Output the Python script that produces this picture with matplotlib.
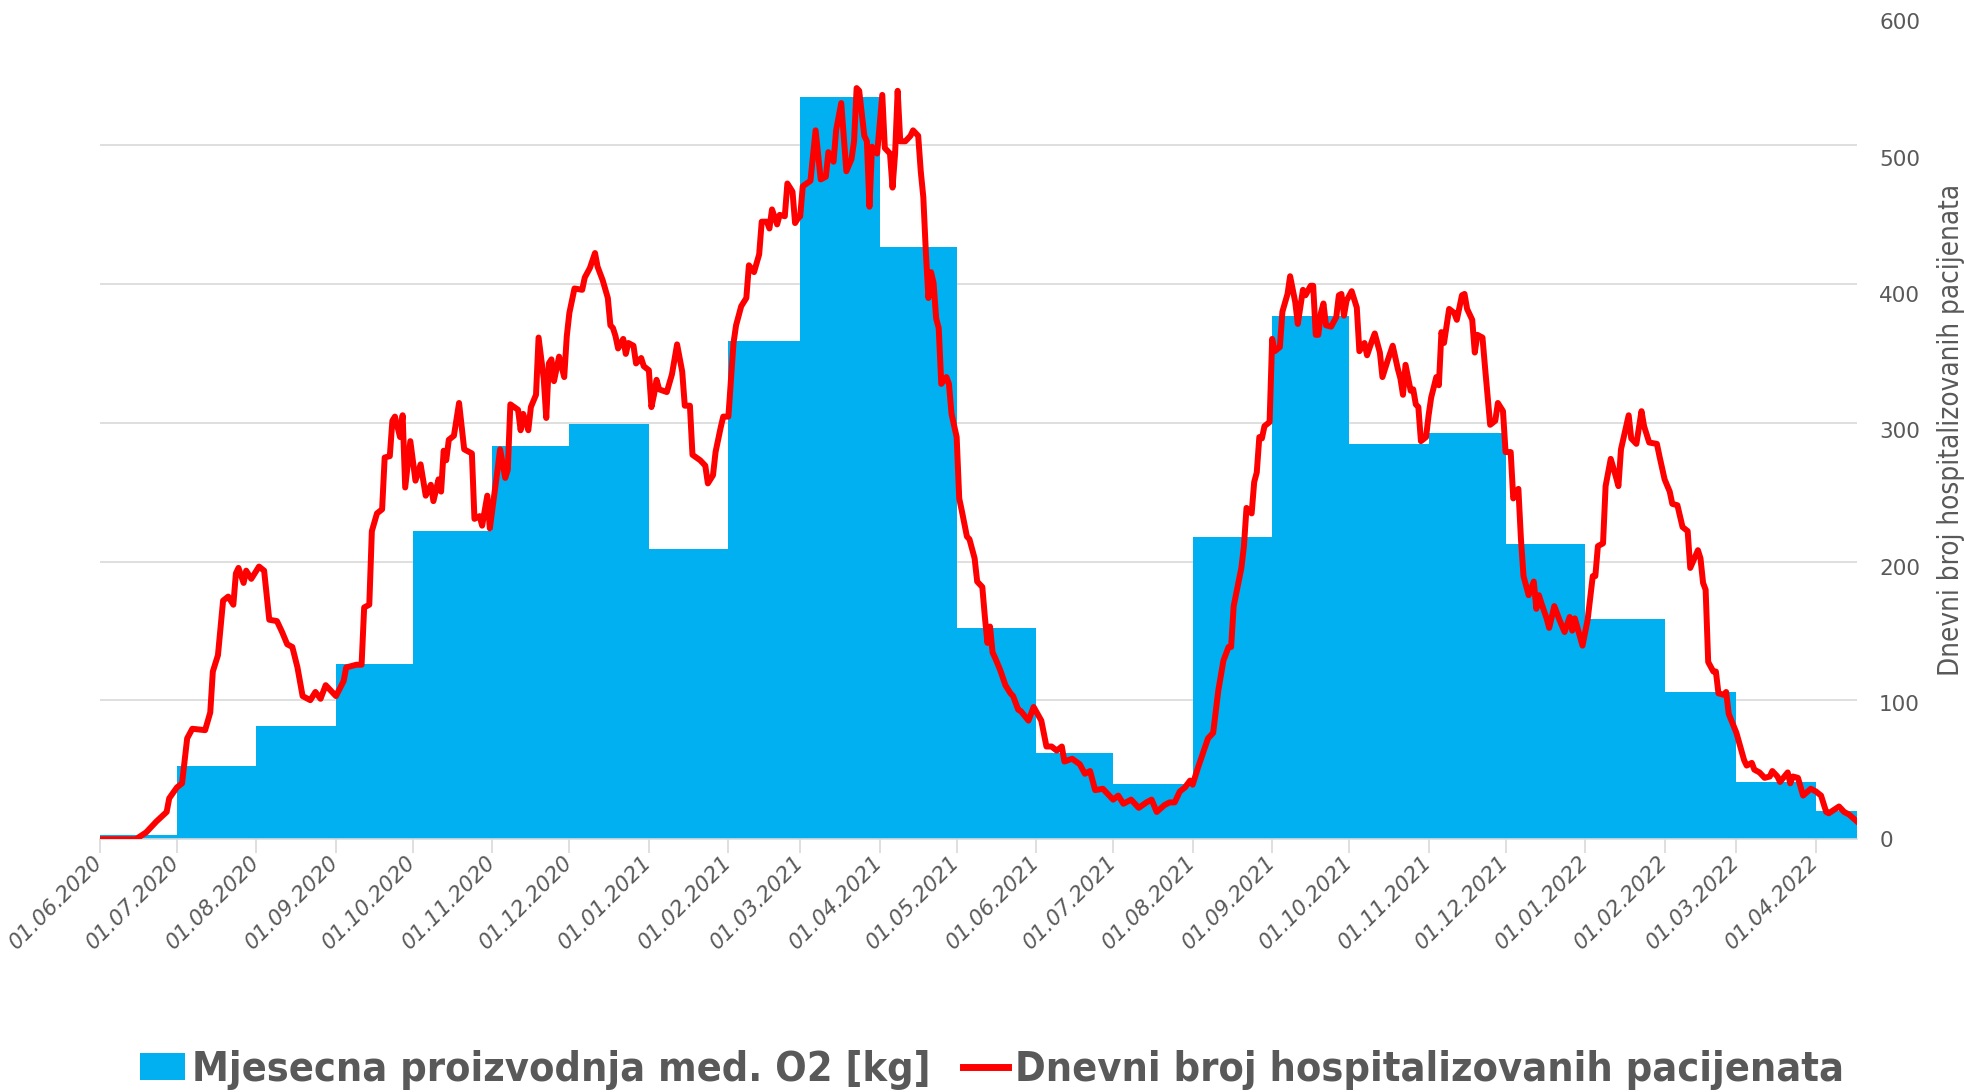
import matplotlib
matplotlib.use('Agg')
import matplotlib.pyplot as plt
import matplotlib.dates as mdates
from matplotlib import font_manager
from matplotlib.font_manager import FontProperties
from matplotlib.patches import Patch
from matplotlib.lines import Line2D
import pandas as pd

# mjesecna proizvodnja kisika po mjesecima (kg)
months = ['01.06.2020', '01.07.2020', '01.08.2020', '01.09.2020', '01.10.2020', '01.11.2020',
          '01.12.2020', '01.01.2021', '01.02.2021', '01.03.2021', '01.04.2021', '01.05.2021',
          '01.06.2021', '01.07.2021', '01.08.2021', '01.09.2021', '01.10.2021', '01.11.2021',
          '01.12.2021', '01.01.2022', '01.02.2022', '01.03.2022', '01.04.2022']
oxygen_kg = [300, 5300, 8150, 12600, 22200, 28300, 29900, 20900, 35900, 53500, 42700, 15200,
             6200, 3950, 21800, 37700, 28500, 29300, 21300, 15900, 10600, 4150, 2040]

# dnevni broj hospitalizovanih pacijenata
hosp_dates = [
    '01.06.2020', '15.06.2020', '19.06.2020', '23.06.2020', '27.06.2020', '28.06.2020',
    '01.07.2020', '03.07.2020', '05.07.2020', '07.07.2020', '12.07.2020', '14.07.2020', '15.07.2020',
    '17.07.2020', '19.07.2020', '21.07.2020', '23.07.2020', '24.07.2020', '25.07.2020', '27.07.2020',
    '28.07.2020', '30.07.2020',
    '02.08.2020', '04.08.2020', '06.08.2020', '09.08.2020', '11.08.2020', '13.08.2020', '15.08.2020',
    '17.08.2020', '19.08.2020', '22.08.2020', '24.08.2020', '26.08.2020', '28.08.2020',
    '01.09.2020', '04.09.2020', '05.09.2020', '09.09.2020', '11.09.2020', '12.09.2020', '14.09.2020',
    '15.09.2020', '17.09.2020', '19.09.2020', '20.09.2020', '22.09.2020', '23.09.2020', '24.09.2020',
    '26.09.2020', '27.09.2020', '28.09.2020', '30.09.2020',
    '02.10.2020', '04.10.2020', '06.10.2020', '08.10.2020', '09.10.2020', '11.10.2020', '12.10.2020',
    '13.10.2020', '14.10.2020', '15.10.2020', '17.10.2020', '19.10.2020', '21.10.2020', '24.10.2020',
    '25.10.2020', '27.10.2020', '28.10.2020', '29.10.2020', '30.10.2020', '31.10.2020',
    '03.11.2020', '04.11.2020', '06.11.2020', '07.11.2020', '08.11.2020', '11.11.2020', '12.11.2020',
    '13.11.2020', '15.11.2020', '16.11.2020', '18.11.2020', '19.11.2020', '21.11.2020', '22.11.2020',
    '23.11.2020', '24.11.2020', '25.11.2020', '27.11.2020', '29.11.2020', '30.11.2020',
    '01.12.2020', '03.12.2020', '06.12.2020', '07.12.2020', '09.12.2020', '11.12.2020', '12.12.2020',
    '14.12.2020', '16.12.2020', '17.12.2020', '18.12.2020', '19.12.2020', '20.12.2020', '22.12.2020',
    '23.12.2020', '24.12.2020', '26.12.2020', '27.12.2020', '29.12.2020', '30.12.2020',
    '01.01.2021', '02.01.2021', '03.01.2021', '04.01.2021', '05.01.2021', '08.01.2021', '10.01.2021',
    '12.01.2021', '14.01.2021', '15.01.2021', '17.01.2021', '18.01.2021', '21.01.2021', '23.01.2021',
    '24.01.2021', '26.01.2021', '27.01.2021', '29.01.2021', '30.01.2021',
    '01.02.2021', '03.02.2021', '04.02.2021', '06.02.2021', '08.02.2021', '09.02.2021', '11.02.2021',
    '13.02.2021', '14.02.2021', '16.02.2021', '17.02.2021', '18.02.2021', '20.02.2021', '21.02.2021',
    '23.02.2021', '24.02.2021', '26.02.2021', '27.02.2021', '28.02.2021',
    '01.03.2021', '02.03.2021', '05.03.2021', '07.03.2021', '09.03.2021', '11.03.2021', '12.03.2021',
    '14.03.2021', '15.03.2021', '17.03.2021', '19.03.2021', '21.03.2021', '22.03.2021', '23.03.2021',
    '24.03.2021', '26.03.2021', '27.03.2021', '28.03.2021', '29.03.2021', '31.03.2021',
    '02.04.2021', '03.04.2021', '05.04.2021', '06.04.2021', '07.04.2021', '08.04.2021', '09.04.2021',
    '11.04.2021', '13.04.2021', '14.04.2021', '16.04.2021', '17.04.2021', '18.04.2021', '19.04.2021',
    '20.04.2021', '21.04.2021', '22.04.2021', '23.04.2021', '24.04.2021', '25.04.2021', '27.04.2021',
    '28.04.2021', '29.04.2021',
    '01.05.2021', '02.05.2021', '03.05.2021', '05.05.2021', '06.05.2021', '08.05.2021', '09.05.2021',
    '11.05.2021', '12.05.2021', '13.05.2021', '14.05.2021', '15.05.2021', '16.05.2021', '18.05.2021',
    '20.05.2021', '22.05.2021', '23.05.2021', '25.05.2021', '26.05.2021', '29.05.2021', '31.05.2021',
    '03.06.2021', '05.06.2021', '07.06.2021', '09.06.2021', '11.06.2021', '12.06.2021', '15.06.2021',
    '18.06.2021', '20.06.2021', '22.06.2021', '24.06.2021', '27.06.2021', '29.06.2021',
    '01.07.2021', '03.07.2021', '05.07.2021', '08.07.2021', '11.07.2021', '14.07.2021', '16.07.2021',
    '18.07.2021', '21.07.2021', '23.07.2021', '25.07.2021', '27.07.2021', '29.07.2021', '31.07.2021',
    '01.08.2021', '03.08.2021', '05.08.2021', '07.08.2021', '09.08.2021', '11.08.2021', '13.08.2021',
    '15.08.2021', '16.08.2021', '17.08.2021', '20.08.2021', '21.08.2021', '22.08.2021', '24.08.2021',
    '25.08.2021', '26.08.2021', '27.08.2021', '28.08.2021', '29.08.2021', '31.08.2021',
    '01.09.2021', '02.09.2021', '04.09.2021', '05.09.2021', '07.09.2021', '08.09.2021', '10.09.2021',
    '11.09.2021', '13.09.2021', '14.09.2021', '16.09.2021', '17.09.2021', '18.09.2021', '19.09.2021',
    '20.09.2021', '21.09.2021', '22.09.2021', '24.09.2021', '26.09.2021', '27.09.2021', '28.09.2021',
    '29.09.2021', '30.09.2021',
    '02.10.2021', '04.10.2021', '05.10.2021', '07.10.2021', '08.10.2021', '10.10.2021', '11.10.2021',
    '13.10.2021', '14.10.2021', '16.10.2021', '18.10.2021', '20.10.2021', '21.10.2021', '22.10.2021',
    '23.10.2021', '25.10.2021', '26.10.2021', '27.10.2021', '28.10.2021', '29.10.2021', '31.10.2021',
    '01.11.2021', '02.11.2021', '04.11.2021', '05.11.2021', '06.11.2021', '07.11.2021', '09.11.2021',
    '11.11.2021', '12.11.2021', '14.11.2021', '15.11.2021', '16.11.2021', '18.11.2021', '19.11.2021',
    '20.11.2021', '22.11.2021', '23.11.2021', '25.11.2021', '27.11.2021', '28.11.2021', '30.11.2021',
    '01.12.2021', '03.12.2021', '04.12.2021', '06.12.2021', '07.12.2021', '08.12.2021', '10.12.2021',
    '12.12.2021', '13.12.2021', '14.12.2021', '15.12.2021', '17.12.2021', '18.12.2021', '20.12.2021',
    '22.12.2021', '24.12.2021', '26.12.2021', '27.12.2021', '28.12.2021', '31.12.2021',
    '02.01.2022', '04.01.2022', '05.01.2022', '06.01.2022', '08.01.2022', '09.01.2022', '11.01.2022',
    '13.01.2022', '14.01.2022', '15.01.2022', '18.01.2022', '19.01.2022', '21.01.2022', '23.01.2022',
    '24.01.2022', '26.01.2022', '29.01.2022', '30.01.2022',
    '01.02.2022', '03.02.2022', '04.02.2022', '06.02.2022', '08.02.2022', '10.02.2022', '11.02.2022',
    '14.02.2022', '15.02.2022', '16.02.2022', '17.02.2022', '18.02.2022', '20.02.2022', '21.02.2022',
    '22.02.2022', '24.02.2022', '25.02.2022', '26.02.2022',
    '01.03.2022', '04.03.2022', '05.03.2022', '07.03.2022', '08.03.2022', '10.03.2022', '12.03.2022',
    '14.03.2022', '15.03.2022', '17.03.2022', '18.03.2022', '21.03.2022', '22.03.2022', '23.03.2022',
    '25.03.2022', '27.03.2022', '30.03.2022',
    '01.04.2022', '03.04.2022', '05.04.2022', '06.04.2022', '10.04.2022', '12.04.2022', '14.04.2022',
    '17.04.2022']
hosp_values = [
    0, 0, 5, 13, 20, 30,
    38, 41, 74, 81, 80, 93, 123,
    135, 175, 178, 172, 195, 199, 188,
    197, 191,
    200, 197, 161, 160, 152, 143, 141,
    126, 105, 102, 108, 103, 113,
    105, 116, 126, 128, 128, 170, 172,
    226, 239, 242, 280, 281, 307, 310,
    295, 311, 258, 292,
    263, 275, 252, 260, 248, 264, 255,
    285, 278, 293, 296, 320, 286, 283,
    235, 237, 230, 241, 252, 228,
    271, 286, 265, 271, 319, 315, 300,
    312, 300, 317, 326, 368, 338, 309,
    349, 352, 336, 354, 339, 369,
    386, 404, 403, 412, 419, 430, 420,
    410, 397, 377, 375, 369, 360, 367,
    356, 364, 362, 349, 353, 347,
    344, 317, 326, 337, 330, 328, 341,
    363, 343, 318, 318, 282, 278, 274,
    261, 267, 284, 302, 310,
    310, 364, 377, 391, 397, 421, 416,
    429, 453, 453, 448, 462, 451, 458,
    457, 481, 475, 452, 455,
    457, 479, 483, 520, 484, 486, 504,
    497, 520, 540, 490, 499, 512, 551,
    549, 516, 512, 464, 508, 503,
    546, 507, 503, 478, 503, 549, 512,
    512, 516, 520, 516, 490, 471, 430,
    397, 416, 408, 382, 375, 334, 339,
    334, 312,
    295, 250, 241, 222, 220, 206, 189,
    185, 163, 144, 156, 137, 133, 124,
    113, 107, 105, 95, 94, 87, 97,
    87, 68, 68, 65, 68, 57, 59,
    55, 48, 50, 36, 37, 33,
    29, 32, 26, 29, 23, 27, 29,
    20, 25, 27, 27, 35, 38, 43,
    40, 52, 63, 74, 78, 109, 131,
    141, 141, 171, 199, 215, 243, 239,
    262, 269, 295, 294, 303, 306,
    367, 358, 361, 387, 400, 413, 394,
    378, 403, 399, 406, 406, 370, 370,
    386, 393, 377, 376, 383, 399, 400,
    384, 395,
    402, 390, 358, 364, 355, 366, 371,
    357, 339, 351, 362, 345, 338, 326,
    348, 329, 330, 319, 317, 292, 295,
    311, 324, 339, 333, 372, 364, 389,
    386, 381, 399, 400, 389, 381, 357,
    370, 368, 346, 304, 307, 320, 314,
    284, 284, 250, 257, 220, 193, 179,
    189, 169, 179, 173, 162, 155, 171,
    161, 152, 163, 153, 162, 142,
    161, 193, 193, 215, 217, 259, 279,
    266, 259, 286, 311, 294, 290, 314,
    303, 291, 290, 281,
    264, 255, 246, 245, 229, 226, 199,
    212, 206, 188, 183, 130, 123, 123,
    107, 106, 108, 92,
    78, 58, 54, 56, 51, 49, 45,
    46, 50, 46, 42, 49, 41, 46,
    45, 32, 37,
    35, 32, 20, 19, 24, 20, 18,
    13]

gray = '#595959'
blue = '#00B0F0'
red = '#FF0000'


def narrow_font(bold):
    # trazi uski (condensed/narrow) font, inace uzmi Roboto
    for f in font_manager.fontManager.ttflist:
        fn = f.fname.lower()
        if ('condensed' in fn or 'narrow' in fn) and (('bold' in fn) == bold) \
                and 'italic' not in fn and 'oblique' not in fn:
            return FontProperties(fname=f.fname)
    return FontProperties(family='Roboto', weight='bold' if bold else 'normal')


def fit_size(fig, text, fp, target_px, max_size):
    # velicina fonta tako da tekst ima sirinu target_px
    fp = fp.copy()
    fp.set_size(20)
    t = fig.text(0, 0, text, fontproperties=fp)
    w = t.get_window_extent(fig.canvas.get_renderer()).width
    t.remove()
    return min(max_size, 20 * target_px / w)


month_dt = pd.to_datetime(months, format='%d.%m.%Y')
widths = [(month_dt[i] + pd.offsets.MonthBegin(1) - month_dt[i]).days for i in range(len(month_dt))]
hosp_dt = pd.to_datetime(hosp_dates, format='%d.%m.%Y')

fig = plt.figure(figsize=(19.64, 10.92), dpi=100)
ax = fig.add_axes([0.0509, 0.2315, 0.8946, 0.749])

ax.bar(month_dt, oxygen_kg, width=widths, align='edge', color=blue, linewidth=0, zorder=2)
ax.set_ylim(0, 58940)
ax.set_yticks(range(0, 50001, 10000))
ax.tick_params(axis='y', length=0, labelleft=False)
ax.grid(axis='y', color='#d9d9d9', linewidth=1.2, zorder=0)
ax.set_axisbelow(True)

ax.set_xlim(pd.Timestamp('2020-06-01'), pd.Timestamp('2022-04-17'))
ax.set_xticks(pd.date_range('2020-06-01', '2022-04-01', freq='MS'))
ax.xaxis.set_major_formatter(mdates.DateFormatter('%d.%m.%Y'))
ax.tick_params(axis='x', length=10, width=1.2, color='#d9d9d9', pad=4)
for lbl in ax.get_xticklabels():
    lbl.set_rotation(45)
    lbl.set_rotation_mode('anchor')
    lbl.set_ha('right')
    lbl.set_va('center')
    lbl.set_fontsize(15.5)
    lbl.set_fontstyle('italic')
    lbl.set_color(gray)

for s in ['left', 'right', 'top']:
    ax.spines[s].set_visible(False)
ax.spines['bottom'].set_color('#d9d9d9')
ax.spines['bottom'].set_linewidth(1.2)

ax2 = ax.twinx()
ax2.plot(hosp_dt, hosp_values, color=red, linewidth=4.3, solid_joinstyle='round')
ax2.set_ylim(0, 600)
ax2.set_yticks(range(0, 601, 100))
ax2.tick_params(axis='y', length=0, pad=16, labelsize=15.5, labelcolor=gray)
for s in ['left', 'right', 'top', 'bottom']:
    ax2.spines[s].set_visible(False)

ylab = 'Dnevni broj hospitalizovanih pacijenata'
fp_lab = narrow_font(False)
fp_lab.set_size(fit_size(fig, ylab, fp_lab, 491, 21))
ax2.set_ylabel(ylab, fontproperties=fp_lab, color=gray, labelpad=12)

labels = ['Mjesecna proizvodnja med. O2 [kg]', 'Dnevni broj hospitalizovanih pacijenata']
fp_leg = narrow_font(True)
fp_leg.set_size(fit_size(fig, labels[0], fp_leg, 739, 37))
handles = [Patch(facecolor=blue, edgecolor='none'),
           Line2D([0], [0], color=red, linewidth=5)]
fig.legend(handles, labels, loc='center', bbox_to_anchor=(0.505, 1 - 1070 / 1092), ncol=2,
           frameon=False, handlelength=1.1, handleheight=0.65, handletextpad=0.15,
           columnspacing=0.8, labelcolor=gray, prop=fp_leg)

fig.savefig('out.png', dpi=100)
